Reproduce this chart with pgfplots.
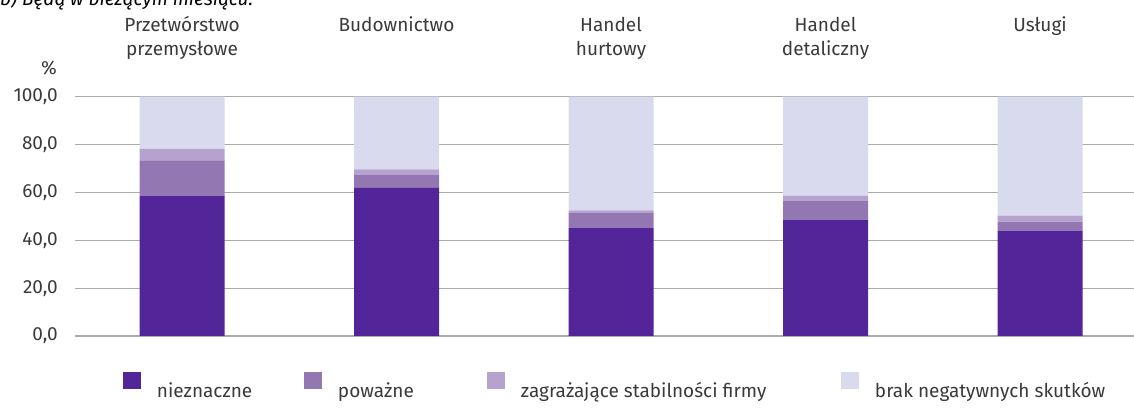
\documentclass[border=0pt]{standalone}
\usepackage{fontspec}
\setmainfont{Fira Sans}
\usepackage{pgfplots}
\usepackage{pgfplotstable}
\pgfplotsset{compat=1.18}
\definecolor{cA}{HTML}{522598}
\definecolor{cB}{HTML}{9377B3}
\definecolor{cC}{HTML}{B6A2CF}
\definecolor{cD}{HTML}{D9DAEE}
\definecolor{gridc}{HTML}{ABABAB}
\definecolor{txt}{HTML}{3A3A3A}
\pgfplotstableread{
x a b c d
0 58.7 14.7 4.8 21.8
1 61.9 5.3 2.4 30.4
2 45.1 6.2 1.2 47.5
3 48.6 7.8 2.3 41.3
4 43.8 4.0 2.5 49.7
}\data
\newcommand{\fs}{\fontsize{19bp}{24bp}\selectfont}
\begin{document}
\begin{tikzpicture}
\node[anchor=base west, inner sep=0pt, font=\fs\itshape, text=black] at (0bp,402bp) {b) Będą w bieżącym miesiącu.};
\begin{axis}[
  at={(75bp,72bp)}, anchor=south west,
  scale only axis, width=1059bp, height=239.3bp,
  ybar stacked, bar width=0.396,
  xmin=-0.499, xmax=4.438, ymin=0, ymax=100,
  xtick={0,1,2,3,4},
  xticklabels={{\strut Przetwórstwo\\przemysłowe},{\strut Budownictwo},{\strut Handel\\hurtowy},{\strut Handel\\detaliczny},{\strut Usługi}},
  xticklabel pos=upper,
  xticklabel style={align=center, anchor=north, inner sep=0pt, font=\fs, text=txt, yshift=82bp},
  ytick={0,20,40,60,80,100},
  yticklabel style={anchor=east, inner sep=0pt, font=\fs, text=txt, xshift=-17bp},
  /pgf/number format/.cd, fixed, fixed zerofill, precision=1, use comma, assume math mode=true, /pgfplots/.cd,
  major tick length=0pt,
  ymajorgrids, grid style={gridc, line width=1.2bp},
  axis line style={draw=none},
  legend columns=4,
  legend style={at={(0.0453,-0.207)}, anchor=west, draw=none, fill=none, inner sep=0pt, outer sep=0pt,
    font=\fs, text=txt, nodes={inner sep=0pt},
    /tikz/every odd column/.style={column sep=16bp}},
  legend image code/.code={\fill[#1] (0bp,1bp) rectangle (18bp,18bp);},
]
\addplot[fill=cA, draw=none] table[x=x, y=a] {\data};
\addlegendentry{\makebox[147bp][l]{nieznaczne}}
\addplot[fill=cB, draw=none] table[x=x, y=b] {\data};
\addlegendentry{\makebox[149bp][l]{poważne}}
\addplot[fill=cC, draw=none] table[x=x, y=c] {\data};
\addlegendentry{\makebox[320bp][l]{zagrażające stabilności firmy}}
\addplot[fill=cD, draw=none] table[x=x, y=d] {\data};
\addlegendentry{brak negatywnych skutków}
\end{axis}
\node[anchor=east, inner sep=0pt, font=\fs, text=txt] at (57bp,340bp) {\%};
\pgfresetboundingbox
\path[use as bounding box] (0bp,0bp) rectangle (1134bp,408bp);
\end{tikzpicture}
\end{document}
